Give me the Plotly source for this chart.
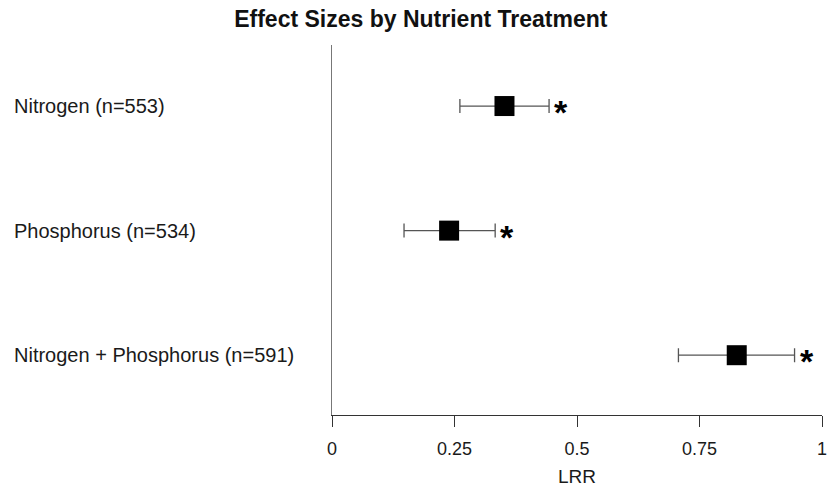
import plotly.graph_objects as go

categories = ["Nitrogen (n=553)", "Phosphorus (n=534)", "Nitrogen + Phosphorus (n=591)"]
row_pos = [3, 2, 1]
lrr = [0.352, 0.239, 0.826]
ci_low = [0.261, 0.147, 0.707]
ci_high = [0.443, 0.333, 0.944]
signif = ["*", "*", "*"]
x_ticks = [0, 0.25, 0.5, 0.75, 1]
x_tick_labels = ["0", "0.25", "0.5", "0.75", "1"]

err_plus = [h - m for h, m in zip(ci_high, lrr)]
err_minus = [m - l for m, l in zip(lrr, ci_low)]

FONT = "Liberation Sans, Arial, sans-serif"

fig = go.Figure()
fig.add_trace(go.Scatter(
    x=lrr, y=row_pos, mode="markers",
    marker=dict(symbol="square", size=20, color="black"),
    error_x=dict(type="data", symmetric=False, array=err_plus, arrayminus=err_minus,
                 color="#555555", thickness=1.3, width=7),
    showlegend=False, hoverinfo="skip",
))

annotations = []
for cat, y in zip(categories, row_pos):
    annotations.append(dict(text=cat, x=(12 - 332) / 490, xref="paper", y=y, yref="y",
                            xanchor="left", yanchor="middle", showarrow=False,
                            font=dict(family=FONT, size=20, color="#1a1a1a")))
for s, hx, y in zip(signif, ci_high, row_pos):
    annotations.append(dict(text="<b>" + s + "</b>", x=hx, xref="x", y=y, yref="y", xanchor="left",
                            yanchor="middle", xshift=3, yshift=-6, showarrow=False,
                            font=dict(family=FONT, size=34, color="black")))

fig.update_layout(
    width=830, height=490,
    margin=dict(l=332, r=8, t=45, b=75, autoexpand=False),
    paper_bgcolor="white", plot_bgcolor="white",
    title=dict(text="<b>Effect Sizes by Nutrient Treatment</b>", x=0.507, xanchor="center",
               y=0.961, yanchor="middle", font=dict(family=FONT, size=23, color="#111111")),
    xaxis=dict(range=[0, 1], tickvals=x_ticks, ticktext=x_tick_labels, automargin=False,
               showgrid=False, zeroline=False, showline=True, linecolor="#333333", linewidth=1,
               ticks="outside", ticklen=11, tickcolor="#333333", tickwidth=1,
               tickfont=dict(family=FONT, size=18, color="#1a1a1a"),
               ticklabelstandoff=6,
               title=dict(text="LRR", font=dict(family=FONT, size=19, color="#1a1a1a"), standoff=12)),
    yaxis=dict(range=[0.52, 3.49], showgrid=False, zeroline=False, showticklabels=False,
               automargin=False, ticks="", showline=True, linecolor="#777777", linewidth=1),
    annotations=annotations,
)

fig.write_html("out.html", config={"displayModeBar": False},
               post_script="document.body.style.margin='0';document.body.style.padding='0';")
